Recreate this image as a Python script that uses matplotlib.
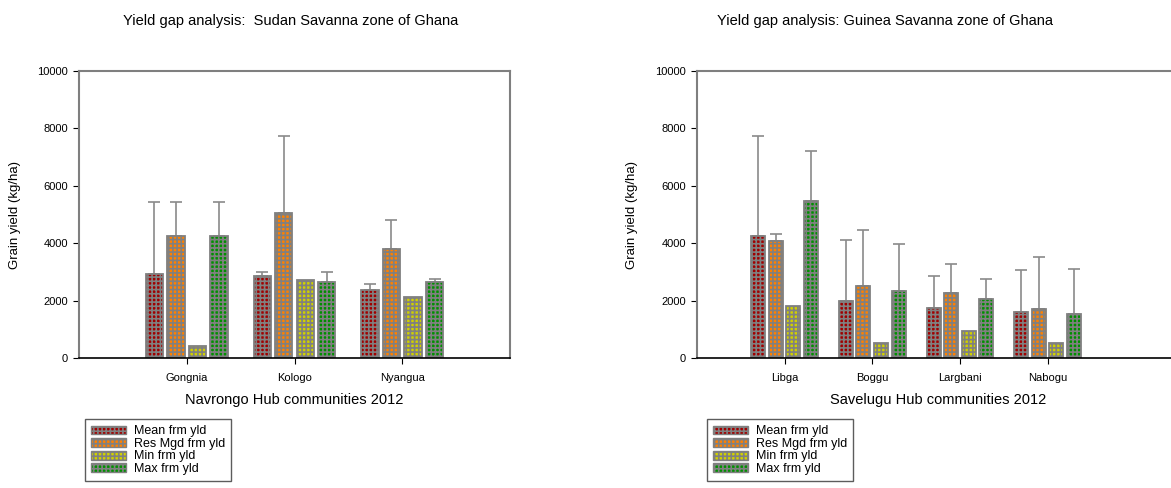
import numpy as np
import matplotlib.pyplot as plt
from matplotlib.patches import Patch

plt.rcParams['font.family'] = ['Liberation Sans', 'DejaVu Sans']
plt.rcParams['hatch.linewidth'] = 1.2

# ------------------ DATA ------------------
series = ["Mean frm yld", "Res Mgd frm yld", "Min frm yld", "Max frm yld"]
colors = ["#a00000", "#ff8000", "#d0d000", "#009000"]

sudan_sites = ["Gongnia", "Kologo", "Nyangua"]
sudan_vals = [
    [2930, 2860, 2360],   # mean
    [4260, 5040, 3790],   # res mgd
    [430, 2720, 2110],    # min
    [4260, 2660, 2660],   # max
]
sudan_tops = [
    [5450, 3000, 2590],
    [5450, 7750, 4800],
    [None, None, None],
    [5450, 3000, 2750],
]

guinea_sites = ["Libga", "Boggu", "Largbani", "Nabogu"]
guinea_vals = [
    [4260, 2000, 1740, 1590],
    [4060, 2510, 2260, 1710],
    [1810, 510, 930, 520],
    [5480, 2320, 2040, 1530],
]
guinea_tops = [
    [7720, 4100, 2850, 3080],
    [4310, 4470, 3290, 3530],
    [None, None, None, None],
    [7230, 3990, 2750, 3100],
]

HATCH = "++++"
EDGE = "#808080"

fig = plt.figure(figsize=(11.71, 4.88), dpi=100)


def draw_panel(ax, sites, vals, tops, title, xlabel, xmax, title_x):
    x = np.arange(len(sites))
    w = 0.2
    for i, (v, t) in enumerate(zip(vals, tops)):
        pos = x + (i - 1.5) * w
        ax.bar(pos, v, width=0.16, color=colors[i], edgecolor=EDGE,
               hatch=HATCH, linewidth=1.3, zorder=2)
        if any(tt is not None for tt in t):
            up = [(tt - vv) if tt is not None else 0 for tt, vv in zip(t, v)]
            ax.errorbar(pos, v, yerr=[np.zeros(len(v)), up], fmt="none",
                        ecolor="#8a8a8a", elinewidth=1.2, capsize=4,
                        capthick=1.2, zorder=1)
    ax.set_xlim(-1, xmax)
    ax.set_ylim(0, 10000)
    ax.set_yticks([0, 2000, 4000, 6000, 8000, 10000])
    ax.set_xticks(x)
    ax.set_xticklabels(sites, fontsize=8)
    ax.tick_params(axis="y", labelsize=8, direction="out", length=4, pad=4)
    ax.tick_params(axis="x", direction="out", length=4, pad=7)
    ax.set_ylabel("Grain yield (kg/ha)", fontsize=9.5, labelpad=12)
    ax.set_xlabel(xlabel, fontsize=10.5, labelpad=7)
    ax.set_title(title, fontsize=10.5, pad=33, x=title_x)
    for s in ["left", "top", "right"]:
        ax.spines[s].set_color("#7f7f7f")
        ax.spines[s].set_linewidth(1.5)
    ax.spines["bottom"].set_color("black")
    ax.spines["bottom"].set_linewidth(1.2)


ax1 = fig.add_axes([0.0675, 0.2664, 0.368, 0.588])
draw_panel(ax1, sudan_sites, sudan_vals, sudan_tops,
           "Yield gap analysis:  Sudan Savanna zone of Ghana",
           "Navrongo Hub communities 2012", 3, 0.49)

ax2 = fig.add_axes([0.5952, 0.2664, 0.4116, 0.588])
draw_panel(ax2, guinea_sites, guinea_vals, guinea_tops,
           "Yield gap analysis: Guinea Savanna zone of Ghana",
           "Savelugu Hub communities 2012", 4.5, 0.39)

handles = [Patch(facecolor=c, edgecolor=EDGE, hatch=HATCH, label=s)
           for c, s in zip(colors, series)]
for lx in [85 / 1171, 707 / 1171]:
    fig.legend(handles=handles, loc="upper left",
               bbox_to_anchor=(lx, 1 - 419 / 488), fontsize=9,
               frameon=True, fancybox=False, edgecolor="#333333",
               handlelength=2.8, handleheight=0.7, labelspacing=0.05,
               borderpad=0.5, handletextpad=0.6, borderaxespad=0)

fig.savefig("out.png", dpi=100)
